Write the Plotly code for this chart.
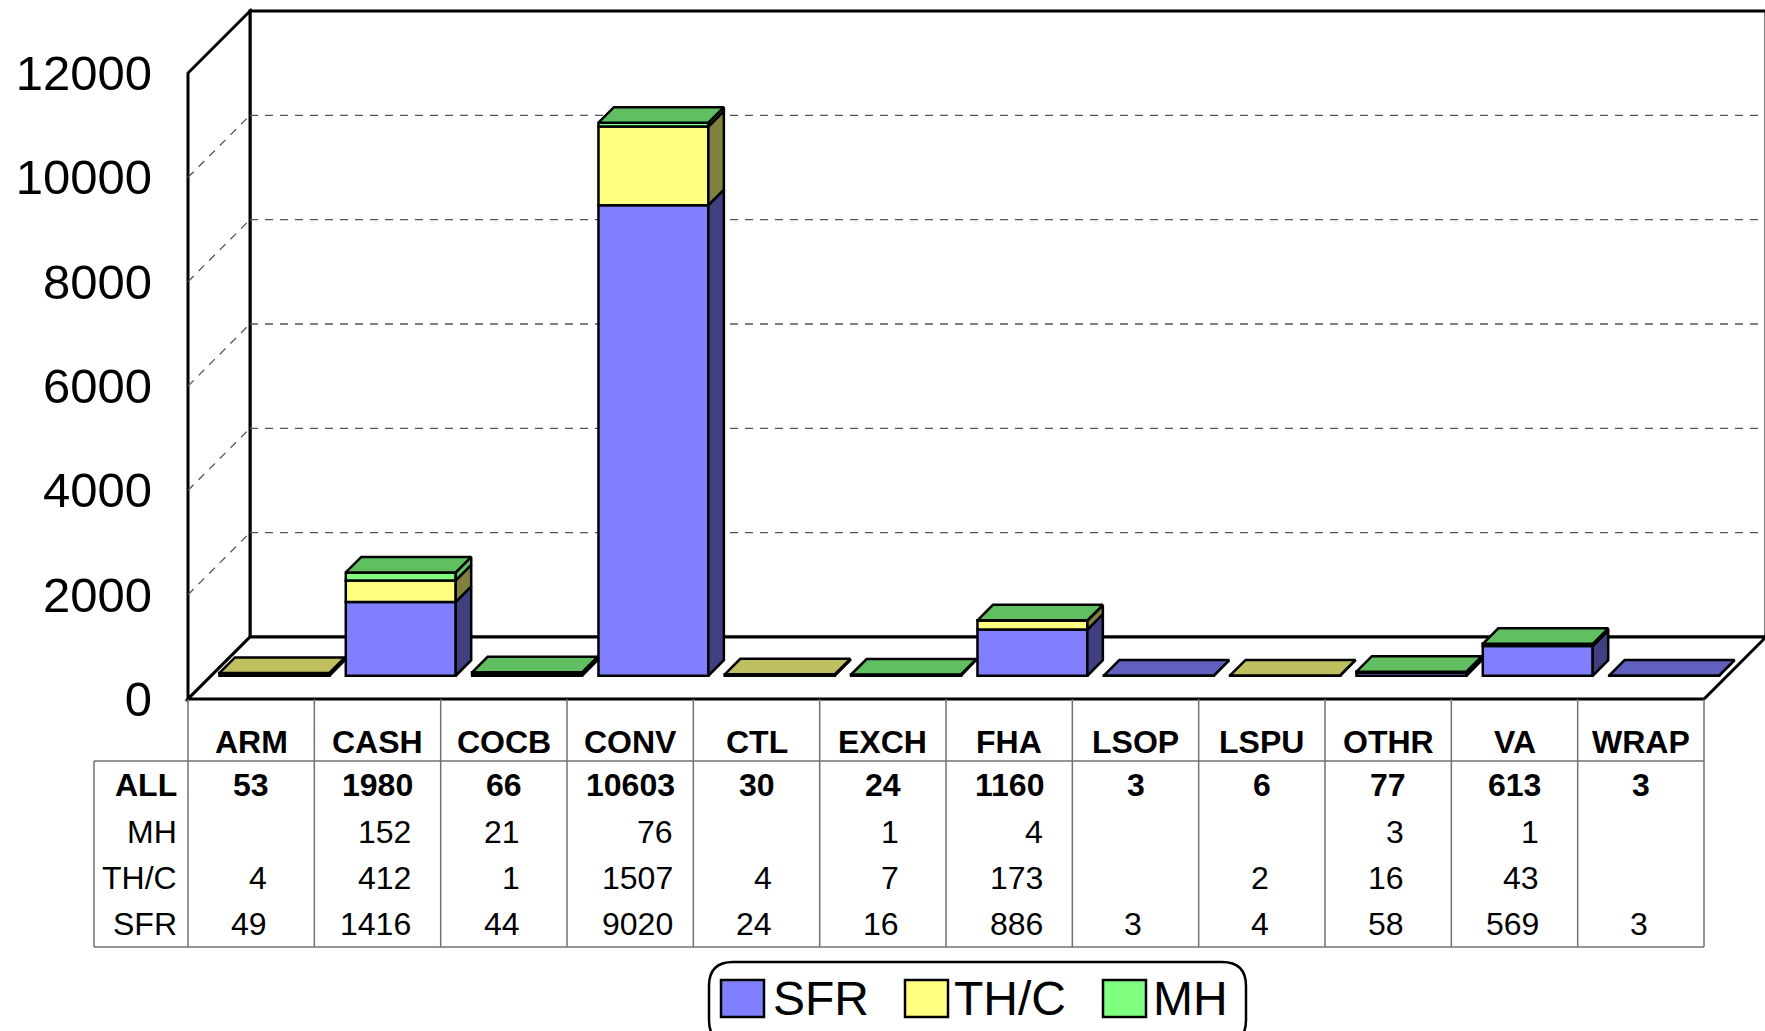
import plotly.graph_objects as go

# ---------------- data ----------------
categories = ["ARM", "CASH", "COCB", "CONV", "CTL", "EXCH", "FHA", "LSOP", "LSPU", "OTHR", "VA", "WRAP"]
sfr = [49, 1416, 44, 9020, 24, 16, 886, 3, 4, 58, 569, 3]
thc = [4, 412, 1, 1507, 4, 7, 173, None, 2, 16, 43, None]
mh = [None, 152, 21, 76, None, 1, 4, None, None, 3, 1, None]
totals = [53, 1980, 66, 10603, 30, 24, 1160, 3, 6, 77, 613, 3]
y_ticks = [0, 2000, 4000, 6000, 8000, 10000, 12000]
series_names = ["SFR", "TH/C", "MH"]
table_rows = ["ALL", "MH", "TH/C", "SFR"]

# ---------------- styles / geometry ----------------
OFF = 0                            # page body margin (removed by post_script)
W, H = 1765 - OFF, 1031 - OFF
FONT = "Liberation Sans, Arial, sans-serif"
DIGIT_EM = 0.556
TICK_SIZE = 49
TABLE_SIZE = 32
LEGEND_SIZE = 48

front_colors = {"SFR": "#8080FF", "TH/C": "#FFFF80", "MH": "#80FF80"}
side_colors = {"SFR": "#404080", "TH/C": "#808040", "MH": "#60BF60"}
top_colors = {"SFR": "#6060BF", "TH/C": "#BFBF60", "MH": "#60BF60"}

# screen-pixel geometry
LEFT_PX, RIGHT_PX = 188, 1704      # front floor edge, pixel x
ZERO_PX, TOP_PX = 699, 73          # pixel y of value 0 and of top tick
DEPTH_PX = 62                      # 3D depth offset (px, both directions)
VMAX = y_ticks[-1]
n = len(categories)
ppc = (RIGHT_PX - LEFT_PX) / n     # px per category
ppv = (ZERO_PX - TOP_PX) / VMAX    # px per value unit
x_range = [-0.5 - (LEFT_PX - OFF) / ppc, -0.5 + (W - (LEFT_PX - OFF)) / ppc]
y_range = [-(H - (ZERO_PX - OFF)) / ppv, (ZERO_PX - OFF) / ppv]
DX = DEPTH_PX / ppc
DY = DEPTH_PX / ppv
F0, F1 = 0.375, 0.625              # bar depth position (fraction of floor depth)
BAR_W = 0.87
XL, XR = -0.5, n - 0.5
EDGE = 2.5


def pyp(p):
    return 1 - (p - OFF) / H


def pxp(p):
    return (p - OFF) / W


series = {"SFR": sfr, "TH/C": thc, "MH": mh}

fig = go.Figure()

# ---------------- bars (front faces) + 3D side/top faces ----------------
xc = [i + F0 * DX for i in range(n)]
cum = [F0 * DY] * n
top_series = [None] * n
sides = {s: ([], []) for s in series_names}
ddx = (F1 - F0) * DX
ddy = (F1 - F0) * DY
for s in series_names:
    vals = series[s]
    base = cum[:]
    fig.add_trace(go.Bar(
        x=xc, y=vals, base=base, width=BAR_W, name=s,
        marker=dict(color=front_colors[s], line=dict(color="black", width=EDGE)),
        showlegend=False, hoverinfo="skip"))
    for i, v in enumerate(vals):
        if v is None:
            continue
        xr = xc[i] + BAR_W / 2
        yb = base[i]
        yt = yb + v
        X, Y = sides[s]
        X += [xr, xr + ddx, xr + ddx, xr, xr, None]
        Y += [yb, yb + ddy, yt + ddy, yt, yb, None]
        cum[i] = yt
        top_series[i] = s

for s in series_names:
    X, Y = sides[s]
    if X:
        fig.add_trace(go.Scatter(x=X, y=Y, mode="lines", fill="toself",
                                 fillcolor=side_colors[s],
                                 line=dict(color="black", width=EDGE),
                                 showlegend=False, hoverinfo="skip"))

tops = {s: ([], []) for s in series_names}
for i in range(n):
    s = top_series[i]
    xl = xc[i] - BAR_W / 2
    xr = xc[i] + BAR_W / 2
    yt = cum[i]
    X, Y = tops[s]
    X += [xl, xr, xr + ddx, xl + ddx, xl, None]
    Y += [yt, yt, yt + ddy, yt + ddy, yt, None]
for s in series_names:
    X, Y = tops[s]
    if X:
        fig.add_trace(go.Scatter(x=X, y=Y, mode="lines", fill="toself",
                                 fillcolor=top_colors[s],
                                 line=dict(color="black", width=EDGE),
                                 showlegend=False, hoverinfo="skip"))

# ---------------- walls, floor, gridlines ----------------
shapes = []


def poly(pts):
    return "M " + " L ".join(f"{x},{y}" for x, y in pts) + " Z"


shapes.append(dict(type="rect", xref="x", yref="y", layer="below",
                   x0=XL + DX, x1=XR + DX, y0=DY, y1=VMAX + DY,
                   line=dict(color="black", width=3), fillcolor="white"))
shapes.append(dict(type="path", xref="x", yref="y", layer="below",
                   path=poly([(XL, 0), (XL, VMAX), (XL + DX, VMAX + DY), (XL + DX, DY)]),
                   line=dict(color="black", width=3), fillcolor="white"))
shapes.append(dict(type="path", xref="x", yref="y", layer="below",
                   path=poly([(XL, 0), (XR, 0), (XR + DX, DY), (XL + DX, DY)]),
                   line=dict(color="black", width=3), fillcolor="white"))
for v in y_ticks[1:-1]:
    shapes.append(dict(type="line", xref="x", yref="y", layer="below",
                       x0=XL + DX, x1=XR + DX, y0=v + DY, y1=v + DY,
                       line=dict(color="#555555", width=1.3, dash="8px,7px")))
    shapes.append(dict(type="line", xref="x", yref="y", layer="below",
                       x0=XL, x1=XL + DX, y0=v, y1=v + DY,
                       line=dict(color="#555555", width=1.3, dash="8px,7px")))

# ---------------- data table ----------------
TBL_LEFT = XL - (LEFT_PX - 94) / ppc
HEADER_Y, HLINE_Y, BOTTOM_Y = 742, 761, 947
ROW_Y = [785, 832, 878, 924]
GRID = dict(color="#707070", width=1.5)
for k in range(n + 1):
    shapes.append(dict(type="line", xref="x", yref="paper", x0=k - 0.5, x1=k - 0.5,
                       y0=pyp(ZERO_PX), y1=pyp(BOTTOM_Y), line=GRID))
shapes.append(dict(type="line", xref="x", yref="paper", x0=TBL_LEFT, x1=TBL_LEFT,
                   y0=pyp(HLINE_Y), y1=pyp(BOTTOM_Y), line=GRID))
for yy in (HLINE_Y, BOTTOM_Y):
    shapes.append(dict(type="line", xref="x", yref="paper", x0=TBL_LEFT, x1=XR,
                       y0=pyp(yy), y1=pyp(yy), line=GRID))

annotations = []
for i, c in enumerate(categories):
    annotations.append(dict(x=i, y=pyp(HEADER_Y), xref="x", yref="paper", text=c,
                            showarrow=False, xanchor="center", yanchor="middle",
                            font=dict(family=FONT, size=TABLE_SIZE, color="black", weight="bold")))
row_values = {"ALL": totals, "MH": mh, "TH/C": thc, "SFR": sfr}
for r, lab in enumerate(table_rows):
    bold = lab == "ALL"
    annotations.append(dict(x=XL, y=pyp(ROW_Y[r]), xref="x", yref="paper", text=lab,
                            showarrow=False, xanchor="right", yanchor="middle", xshift=-9,
                            font=dict(family=FONT, size=TABLE_SIZE, color="black",
                                      weight="bold" if bold else "normal")))
    for i, v in enumerate(row_values[lab]):
        if v is None:
            continue
        if bold:
            annotations.append(dict(x=i, y=pyp(ROW_Y[r]), xref="x", yref="paper", text=str(v),
                                    showarrow=False, xanchor="center", yanchor="middle",
                                    font=dict(family=FONT, size=TABLE_SIZE, color="black", weight="bold")))
        else:
            shift = len(str(totals[i])) * DIGIT_EM * TABLE_SIZE / 2
            annotations.append(dict(x=i, y=pyp(ROW_Y[r]), xref="x", yref="paper", text=str(v),
                                    showarrow=False, xanchor="right", yanchor="middle", xshift=shift,
                                    font=dict(family=FONT, size=TABLE_SIZE, color="black")))

# ---------------- legend (drawn) ----------------
bx0, bx1, by0, by1, rr = 709, 1246, 962, 1044, 24
lp = (f"M {pxp(bx0 + rr)},{pyp(by0)} L {pxp(bx1 - rr)},{pyp(by0)} "
      f"Q {pxp(bx1)},{pyp(by0)} {pxp(bx1)},{pyp(by0 + rr)} "
      f"L {pxp(bx1)},{pyp(by1 - rr)} Q {pxp(bx1)},{pyp(by1)} {pxp(bx1 - rr)},{pyp(by1)} "
      f"L {pxp(bx0 + rr)},{pyp(by1)} Q {pxp(bx0)},{pyp(by1)} {pxp(bx0)},{pyp(by1 - rr)} "
      f"L {pxp(bx0)},{pyp(by0 + rr)} Q {pxp(bx0)},{pyp(by0)} {pxp(bx0 + rr)},{pyp(by0)} Z")
shapes.append(dict(type="path", xref="paper", yref="paper", path=lp,
                   line=dict(color="black", width=2.5), fillcolor="rgba(0,0,0,0)"))
legend_sq_x = [721, 905, 1103]
legend_txt_x = [771, 952, 1151]
SQ_W, SQ_T, SQ_B, LEG_Y = 43, 980, 1017, 998
for k, s in enumerate(series_names):
    shapes.append(dict(type="rect", xref="paper", yref="paper",
                       x0=pxp(legend_sq_x[k]), x1=pxp(legend_sq_x[k] + SQ_W),
                       y0=pyp(SQ_B), y1=pyp(SQ_T),
                       line=dict(color="black", width=2.5), fillcolor=front_colors[s]))
    annotations.append(dict(x=pxp(legend_txt_x[k]), y=pyp(LEG_Y), xref="paper", yref="paper",
                            text=s, showarrow=False, xanchor="left", yanchor="middle",
                            font=dict(family=FONT, size=LEGEND_SIZE, color="black")))

fig.update_layout(
    width=W, height=H,
    margin=dict(l=0, r=0, t=0, b=0, pad=0),
    paper_bgcolor="white", plot_bgcolor="white",
    barmode="overlay", showlegend=False,
    xaxis=dict(range=x_range, domain=[0, 1], visible=False, fixedrange=True),
    yaxis=dict(range=y_range, domain=[0, 1], anchor="free", position=pxp(LEFT_PX),
               tickvals=y_ticks, ticktext=[str(v) for v in y_ticks],
               showgrid=False, zeroline=False, showline=False, ticks="",
               ticklabelstandoff=36, automargin=False, fixedrange=True,
               tickfont=dict(family=FONT, size=TICK_SIZE, color="black")),
    shapes=shapes, annotations=annotations,
)

fig.write_html("out.html", config={"displayModeBar": False},
               post_script="document.body.style.margin='0px';document.body.style.overflow='hidden';")
